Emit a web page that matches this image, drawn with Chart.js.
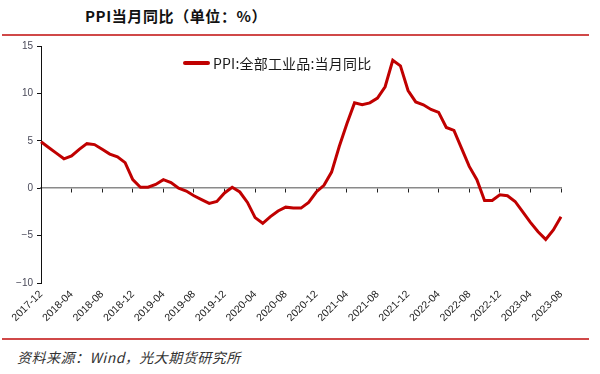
<!DOCTYPE html>
<html>
<head>
<meta charset="utf-8">
<script src="https://cdn.jsdelivr.net/npm/chart.js@4/dist/chart.umd.min.js"></script>
<style>
  html, body { margin: 0; padding: 0; background: #fff; }
  body { width: 600px; height: 374px; position: relative; overflow: hidden; font-family: "Noto Sans CJK SC", "Liberation Sans", sans-serif; }
  #title { position: absolute; left: 85px; top: 5px; font-size: 15px; font-weight: bold; color: #111; letter-spacing: 0.6px; white-space: nowrap; }
  .rule { position: absolute; left: 2px; width: 587px; height: 2px; background: #d04848; }
  #wrap { position: absolute; left: 0; top: 36px; width: 600px; height: 300px; }
  #legend { position: absolute; left: 183px; top: 53px; height: 20px; display: flex; align-items: center; white-space: nowrap; }
  #legend .sw { width: 27px; height: 4px; background: #c00000; border-radius: 2px; margin-right: 3px; }
  #legend .tx { font-size: 14px; color: #1a1a1a; letter-spacing: 0.2px; }
  #source { position: absolute; left: 17px; top: 347px; font-size: 14px; font-style: italic; color: #333; letter-spacing: 0.5px; white-space: nowrap; }
</style>
</head>
<body>
<div id="title">PPI当月同比（单位：%）</div>
<div class="rule" style="top:34px"></div>
<div id="wrap"><canvas id="c" width="600" height="300"></canvas></div>
<div id="legend"><span class="sw"></span><span class="tx">PPI:全部工业品:当月同比</span></div>
<div class="rule" style="top:338px"></div>
<div id="source">资料来源：Wind，光大期货研究所</div>
<script>
const months = [
  "2017-12",
  "2018-01","2018-02","2018-03","2018-04","2018-05","2018-06","2018-07","2018-08","2018-09","2018-10","2018-11","2018-12",
  "2019-01","2019-02","2019-03","2019-04","2019-05","2019-06","2019-07","2019-08","2019-09","2019-10","2019-11","2019-12",
  "2020-01","2020-02","2020-03","2020-04","2020-05","2020-06","2020-07","2020-08","2020-09","2020-10","2020-11","2020-12",
  "2021-01","2021-02","2021-03","2021-04","2021-05","2021-06","2021-07","2021-08","2021-09","2021-10","2021-11","2021-12",
  "2022-01","2022-02","2022-03","2022-04","2022-05","2022-06","2022-07","2022-08","2022-09","2022-10","2022-11","2022-12",
  "2023-01","2023-02","2023-03","2023-04","2023-05","2023-06","2023-07","2023-08"
];
const ppiYoY = [
  4.9,
  4.3, 3.7, 3.1, 3.4, 4.1, 4.7, 4.6, 4.1, 3.6, 3.3, 2.7, 0.9,
  0.1, 0.1, 0.4, 0.9, 0.6, 0.0, -0.3, -0.8, -1.2, -1.6, -1.4, -0.5,
  0.1, -0.4, -1.5, -3.1, -3.7, -3.0, -2.4, -2.0, -2.1, -2.1, -1.5, -0.4,
  0.3, 1.7, 4.4, 6.8, 9.0, 8.8, 9.0, 9.5, 10.7, 13.5, 12.9, 10.3,
  9.1, 8.8, 8.3, 8.0, 6.4, 6.1, 4.2, 2.3, 0.9, -1.3, -1.3, -0.7,
  -0.8, -1.4, -2.5, -3.6, -4.6, -5.4, -4.4, -3.0
];
const yTicks = [-10, -5, 0, 5, 10, 15];
const labelEvery = 4;

const fmt = v => (v < 0 ? "\u2212" + Math.abs(v) : String(v));

new Chart(document.getElementById("c"), {
  type: "line",
  data: {
    labels: months,
    datasets: [{
      label: "PPI:全部工业品:当月同比",
      data: ppiYoY,
      borderColor: "#c00000",
      borderWidth: 3,
      pointRadius: 0,
      tension: 0,
      fill: false
    }]
  },
  options: {
    responsive: false,
    animation: false,
    events: [],
    layout: { padding: { top: 8, right: 39, bottom: 0, left: 0 } },
    plugins: { legend: { display: false }, title: { display: false }, tooltip: { enabled: false } },
    scales: {
      x: {
        type: "category",
        position: "bottom",
        offset: false,
        border: { display: false },
        grid: { display: false, drawTicks: false },
        ticks: {
          autoSkip: false,
          maxRotation: 45,
          minRotation: 45,
          padding: 5,
          color: "#222",
          font: { family: "Liberation Sans", size: 10.5 },
          callback: function(v, i) { return i % labelEvery === 0 ? months[i] : ""; }
        },
        afterFit: s => { s.height = 53; }
      },
      x0: {
        type: "category",
        position: { y: 0 },
        offset: false,
        border: { display: true, color: "#8a8a8a", width: 1.5 },
        grid: {
          drawOnChartArea: false,
          drawTicks: true,
          tickLength: 4,
          tickWidth: 1,
          color: ctx => (ctx.index % labelEvery === 0 && ctx.index > 0 ? "#222" : "rgba(0,0,0,0)"),
          tickColor: ctx => (ctx.index % labelEvery === 0 && ctx.index > 0 ? "#222" : "rgba(0,0,0,0)")
        },
        ticks: { display: false, autoSkip: false }
      },
      y: {
        min: -10,
        max: 15,
        afterBuildTicks: s => { s.ticks = yTicks.map(v => ({ value: v })); },
        border: { display: true, color: "#111", width: 1 },
        grid: { drawOnChartArea: false, drawTicks: true, tickLength: 4, color: "#111" },
        ticks: {
          padding: 4,
          color: "#4a4a5a",
          font: { family: "Liberation Sans", size: 10 },
          callback: v => fmt(v)
        },
        afterFit: s => { s.width = 41; }
      }
    }
  }
});
</script>
</body>
</html>
